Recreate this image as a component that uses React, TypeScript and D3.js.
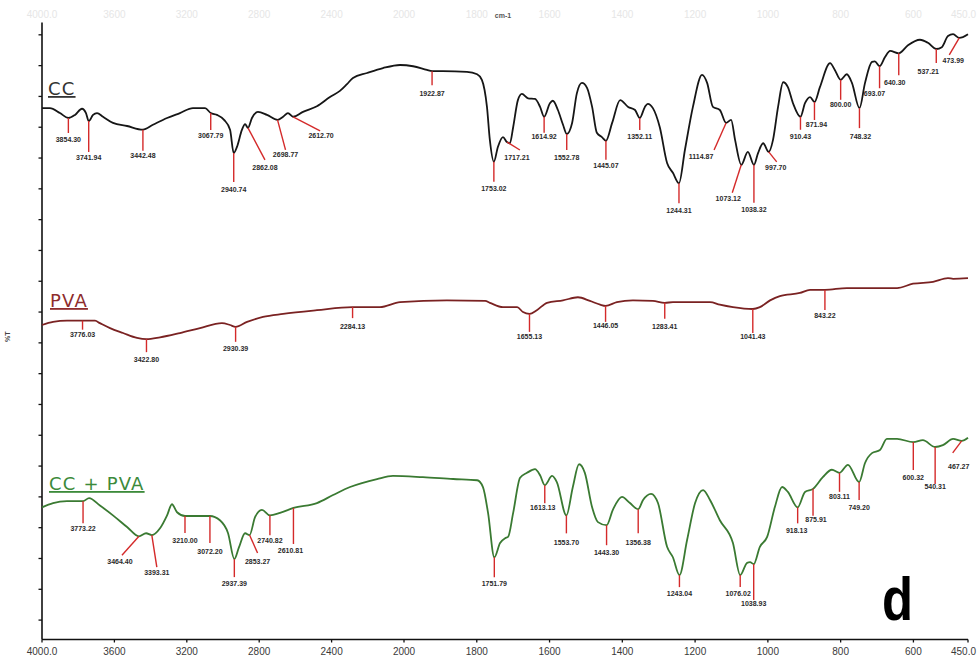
import React from "react";
import * as d3 from "d3";

// FTIR spectra: wavenumber (cm-1) vs transmittance (%T), three stacked traces
const xTicks = [4000, 3600, 3200, 2800, 2400, 2000, 1800, 1600, 1400, 1200, 1000, 800, 600, 450];
const yTicks = d3.range(0, 96, 5);

const ccSpectrum: [number, number][] = [
  [4000, 83.1], [3956, 83.1], [3901, 82.3], [3854.3, 81.5], [3818, 82.0], [3779, 83.0], [3757, 82.3],
  [3741.94, 81.0], [3718, 82.0], [3696, 82.3], [3663, 81.7], [3608, 80.7], [3530, 80.2], [3442.48, 79.6],
  [3387, 80.4], [3309, 81.5], [3238, 82.3], [3166, 83.1], [3099, 83.1], [3067.79, 82.3], [3033, 82.0],
  [2994, 81.2], [2961, 79.6], [2940.74, 75.8], [2923, 76.8], [2895, 79.6], [2878, 80.5], [2862.08, 79.9],
  [2840, 81.5], [2807, 82.5], [2757, 82.0], [2698.77, 81.2], [2668, 81.7], [2641, 82.3], [2612.7, 81.7],
  [2558, 82.5], [2481, 83.4], [2409, 84.9], [2354, 85.9], [2315, 87.0], [2282, 88.0], [2204, 88.8],
  [2116, 89.6], [2022, 90.1], [1975, 89.9], [1937, 89.3], [1922.87, 89.1], [1893, 89.1], [1827, 89.0],
  [1799, 88.6], [1786, 87.7], [1772, 83.3], [1764, 77.9], [1753.02, 74.4], [1742, 76.8], [1728, 78.4],
  [1717.21, 77.6], [1709, 77.4], [1700, 80.0], [1687, 84.4], [1676, 85.4], [1659, 84.7], [1640, 84.6],
  [1626, 83.3], [1614.92, 81.7], [1599, 83.9], [1591, 84.3], [1577, 82.8], [1563, 80.4], [1552.78, 78.9],
  [1538, 80.7], [1525, 85.5], [1511, 87.2], [1497, 86.4], [1483, 83.3], [1470, 79.1], [1456, 78.4],
  [1445.07, 77.8], [1428, 80.7], [1406, 84.4], [1384, 83.3], [1365, 82.8], [1352.11, 81.5], [1338, 83.3],
  [1330, 83.8], [1316, 83.1], [1297, 80.0], [1277, 74.2], [1261, 72.6], [1244.31, 70.9], [1228, 76.3],
  [1206, 83.3], [1181, 88.5], [1167, 87.2], [1151, 83.3], [1132, 82.8], [1114.87, 80.7], [1101, 81.2],
  [1090, 77.9], [1073.12, 73.9], [1055, 76.0], [1038.32, 73.9], [1027, 75.8], [1013, 77.4], [997.7, 76.0],
  [986, 77.9], [972, 83.3], [958, 87.3], [945, 86.5], [931, 83.9], [910.43, 81.7], [898, 83.9],
  [884, 84.9], [871.94, 84.1], [857, 86.5], [829, 90.4], [816, 89.3], [800.0, 87.7], [783, 88.6],
  [769, 87.2], [748.32, 83.1], [733, 87.2], [714, 90.6], [706, 90.7], [693.07, 89.9], [678, 91.4],
  [664, 92.4], [640.3, 92.0], [615, 93.3], [582, 94.2], [560, 93.7], [537.21, 92.7], [522, 93.0],
  [505, 94.8], [491, 95.1], [473.99, 94.5], [450, 95.1],
];

const pvaSpectrum: [number, number][] = [
  [4000, 47.9], [3939, 48.4], [3862, 48.6], [3776.03, 48.6], [3707, 48.6], [3680, 48.2], [3624, 47.4],
  [3552, 46.6], [3475, 45.8], [3422.8, 45.6], [3348, 45.9], [3238, 46.6], [3127, 47.4], [3006, 48.2],
  [2961, 47.9], [2930.39, 47.6], [2867, 48.4], [2779, 49.2], [2668, 49.7], [2481, 50.3], [2284.13, 50.8],
  [2133, 50.8], [2022, 51.6], [1882, 51.9], [1777, 51.8], [1764, 51.5], [1728, 50.8], [1689, 50.8],
  [1673, 50.0], [1655.13, 49.7], [1635, 50.3], [1607, 51.5], [1563, 51.9], [1522, 52.4], [1489, 51.8],
  [1461, 51.2], [1446.05, 51.0], [1415, 51.6], [1371, 51.9], [1316, 51.8], [1283.41, 51.5], [1261, 51.6],
  [1159, 51.6], [1132, 51.2], [1096, 50.8], [1041.43, 50.5], [1022, 50.8], [994, 51.9], [967, 52.6],
  [912, 53.1], [884, 53.6], [843.22, 53.6], [783, 53.9], [645, 53.9], [601, 54.6], [546, 54.9],
  [505, 55.5], [491, 55.4], [450, 55.5],
];

const blendSpectrum: [number, number][] = [
  [4000, 18.3], [3939, 19.0], [3862, 19.3], [3773.22, 19.3], [3740, 19.8], [3680, 18.6], [3608, 17.0],
  [3530, 15.1], [3464.4, 13.6], [3425, 14.1], [3393.31, 13.8], [3348, 14.9], [3309, 17.0], [3282, 18.8],
  [3254, 17.5], [3210.0, 16.9], [3127, 16.9], [3072.2, 16.9], [3017, 16.2], [2972, 14.1], [2937.39, 9.9],
  [2912, 11.8], [2878, 14.1], [2853.27, 13.8], [2823, 16.7], [2785, 17.9], [2740.82, 17.0], [2685, 17.4],
  [2610.81, 18.2], [2481, 19.0], [2392, 20.3], [2298, 21.6], [2149, 22.9], [2061, 23.4], [1948, 23.2],
  [1865, 22.9], [1799, 22.7], [1783, 21.6], [1769, 17.4], [1751.79, 10.2], [1736, 12.5], [1722, 13.3],
  [1714, 13.5], [1700, 17.4], [1681, 23.1], [1662, 23.9], [1640, 24.5], [1626, 23.5], [1613.13, 21.9],
  [1593, 23.4], [1580, 22.4], [1553.7, 17.0], [1536, 21.6], [1519, 25.3], [1503, 23.9], [1483, 18.3],
  [1467, 15.9], [1443.3, 15.4], [1426, 17.9], [1401, 20.0], [1379, 19.0], [1356.38, 18.0], [1343, 19.5],
  [1321, 20.5], [1302, 19.0], [1277, 11.9], [1261, 10.2], [1243.04, 7.3], [1222, 13.0], [1200, 19.0],
  [1178, 21.1], [1159, 19.5], [1132, 16.2], [1096, 12.5], [1076.02, 7.3], [1057, 9.3], [1049, 9.4],
  [1038.93, 9.1], [1022, 11.9], [1002, 13.5], [981, 18.3], [961, 21.6], [945, 20.8], [918.13, 18.3],
  [898, 20.8], [875.91, 21.3], [849, 23.2], [824, 24.4], [803.11, 23.9], [780, 25.2], [749.2, 22.4],
  [733, 25.5], [714, 27.1], [692, 27.6], [673, 29.4], [645, 29.4], [600.32, 28.9], [574, 29.2],
  [540.31, 28.1], [519, 28.4], [491, 29.4], [467.27, 29.1], [450, 29.6],
];

const ccPeaks = [3854.3, 3741.94, 3442.48, 3067.79, 2940.74, 2862.08, 2698.77, 2612.7, 1922.87, 1753.02,
  1717.21, 1614.92, 1552.78, 1445.07, 1352.11, 1244.31, 1114.87, 1073.12, 1038.32, 997.7, 910.43, 871.94,
  800.0, 748.32, 693.07, 640.3, 537.21, 473.99];
const pvaPeaks = [3776.03, 3422.8, 2930.39, 2284.13, 1655.13, 1446.05, 1283.41, 1041.43, 843.22];
const blendPeaks = [3773.22, 3464.4, 3393.31, 3210.0, 3072.2, 2937.39, 2853.27, 2740.82, 2610.81, 1751.79,
  1613.13, 1553.7, 1443.3, 1356.38, 1243.04, 1076.02, 1038.93, 918.13, 875.91, 803.11, 749.2, 600.32,
  540.31, 467.27];

// Leader geometry for each peak marker: [line dx, line dy, label dx, label dy] in px
const ccLeaders = [[0, 15, 0, 24], [0, 31, 0, 38.5], [0, 21, 0, 28.5], [0, 17, 0, 24.5], [0, 29, 0, 38.5],
  [17, 32, 17, 42.5], [8, 30, 8, 37.5], [27, 14, 28, 21.5], [0, 14, 0, 24.5], [0, 20, 0, 29.5],
  [13, 8, 10, 17.5], [0, 16, 0, 22.5], [0, 16, 0, 25.5], [0, 19, 0, 27.5], [0, 12, 0, 21.5],
  [0, 20, 0, 29.5], [-12, 27, -25, 36.5], [-9, 28, -13, 36.5], [0, 38, 0, 47.5], [8, 10, 7, 18.5],
  [0, 13, 0, 22.5], [0, 18, 2, 25.5], [0, 20, 0, 27.5], [0, 20, 1, 30.5], [0, 22, -5, 29.5],
  [0, 22, -4, 31.5], [0, 14, -8, 25.5], [-10, 17, -6, 25.5]];
const pvaLeaders = [[0, 9, 0, 16.5], [0, 13, 0, 22.5], [0, 15, 0, 24.5], [0, 11, 0, 21.5], [0, 18, 0, 25.5],
  [0, 16, 0, 22.5], [0, 16, 0, 26.5], [0, 24, 0, 30.5], [0, 20, 0, 28.5]];
const blendLeaders = [[0, 22, 0, 29.5], [-17, 19, -19, 27.5], [5, 32, 5, 39.5], [0, 17, 0, 27.5],
  [0, 27, 0, 38.5], [0, 18, 0, 26.5], [8, 18, 8, 28.5], [0, 20, 0, 27.5], [0, 36, -3, 45.5],
  [0, 20, 0, 28.5], [0, 18, -2, 24.5], [0, 18, 0, 29.5], [0, 20, 0, 29.5], [0, 24, 0, 35.5],
  [0, 12, 0, 20.5], [0, 12, -2, 20.5], [0, 36, 0, 41.5], [0, 16, -1, 25.5], [0, 27, 3, 33],
  [0, 19, 0, 26.5], [0, 18, 0, 27.5], [0, 28, 0, 37.5], [0, 37, 0, 42.5], [-9, 12, -3, 28.5]];

const series = [
  { name: "CC", data: ccSpectrum, peaks: ccPeaks, leaders: ccLeaders, color: "#161616", nameColor: "#333333", nameAt: [48, 95] },
  { name: "PVA", data: pvaSpectrum, peaks: pvaPeaks, leaders: pvaLeaders, color: "#7a2222", nameColor: "#8e2c2c", nameAt: [50, 307] },
  { name: "CC + PVA", data: blendSpectrum, peaks: blendPeaks, leaders: blendLeaders, color: "#3a7a32", nameColor: "#3c8a3a", nameAt: [49, 490] },
];

const W = 977;
const H = 657;

// Wavenumber axis switches to double scale below 2000 cm-1
const x = d3.scaleLinear().domain([4000, 2000, 450]).range([42, 404, 968]);
const y = d3.scaleLinear().domain([-3.15, 97]).range([639.5, 22.5]);

const line = d3
  .line<[number, number]>()
  .x((d) => x(d[0]))
  .y((d) => y(d[1]))
  .curve(d3.curveMonotoneX);

function valueAt(data: [number, number][], wn: number): number {
  const hit = data.find((d) => Math.abs(d[0] - wn) < 0.005);
  if (hit) return hit[1];
  const interp = d3.scaleLinear().domain(data.map((d) => d[0])).range(data.map((d) => d[1]));
  return interp(wn);
}

const tickLabel = (t: number) => (t === 4000 || t === 450 ? t.toFixed(1) : String(t));
// The last label sits against the right edge, so it is right-aligned there
const tickAnchor = (t: number) => (t === 450 ? "end" : "middle");
const tickX = (t: number) => (t === 450 ? W - 1 : x(t));

export default function App() {
  const axisBottom = y(-3.15);
  const axisTop = y(97);
  return (
    <svg
      width={W}
      height={H}
      viewBox={`0 0 ${W} ${H}`}
      style={{ position: "absolute", left: 0, top: 0, background: "#ffffff" }}
    >
      {/* faint top scale */}
      <g fontFamily="Liberation Sans, Arial, sans-serif" fontSize={10} fill="#e6e6e6">
        {xTicks.map((t) => (
          <text key={`top-${t}`} x={tickX(t)} y={18} textAnchor={tickAnchor(t)}>
            {tickLabel(t)}
          </text>
        ))}
      </g>
      <text x={503} y={18} fontFamily="Liberation Sans, Arial, sans-serif" fontSize={7} fontWeight="bold" fill="#555" textAnchor="middle">
        cm-1
      </text>

      {/* axes */}
      <line x1={x(4000)} x2={x(4000)} y1={axisTop} y2={axisBottom} stroke="#111" strokeWidth={1.6} />
      <line x1={x(4000)} x2={x(450)} y1={axisBottom} y2={axisBottom} stroke="#111" strokeWidth={1.6} />
      {yTicks.map((t) => (
        <line key={`yt-${t}`} x1={x(4000) - 3.5} x2={x(4000)} y1={y(t)} y2={y(t)} stroke="#111" strokeWidth={1.3} />
      ))}
      {xTicks.map((t) => (
        <line key={`xt-${t}`} x1={x(t)} x2={x(t)} y1={axisBottom} y2={axisBottom + 3} stroke="#111" strokeWidth={1.3} />
      ))}
      <g fontFamily="Liberation Sans, Arial, sans-serif" fontSize={10} fill="#3a3a3a">
        {xTicks.map((t) => (
          <text key={`xl-${t}`} x={tickX(t)} y={655} textAnchor={tickAnchor(t)}>
            {tickLabel(t)}
          </text>
        ))}
      </g>
      <text
        transform={`translate(10, ${y(46)}) rotate(-90)`}
        fontFamily="Liberation Sans, Arial, sans-serif"
        fontSize={7}
        fontWeight="bold"
        fill="#444"
        textAnchor="middle"
      >
        %T
      </text>

      {series.map((s) => (
        <g key={s.name}>
          <path d={line(s.data) ?? ""} fill="none" stroke={s.color} strokeWidth={1.8} strokeLinejoin="round" />
          {s.peaks.map((p, i) => {
            const [dx, dy, lx, ly] = s.leaders[i];
            const px = x(p);
            const py = y(valueAt(s.data, p));
            return (
              <g key={`${s.name}-${p}`}>
                <line x1={px} y1={py} x2={px + dx} y2={py + dy} stroke="#d42a2a" strokeWidth={1.4} />
                <text
                  x={px + lx}
                  y={py + ly}
                  fontFamily="Liberation Sans, Arial, sans-serif"
                  fontSize={7}
                  fontWeight="bold"
                  fill="#2a2a2a"
                  textAnchor="middle"
                >
                  {p.toFixed(2)}
                </text>
              </g>
            );
          })}
          <text
            x={s.nameAt[0]}
            y={s.nameAt[1]}
            fontFamily="DejaVu Sans, Verdana, sans-serif"
            fontSize={18}
            letterSpacing={1.2}
            fill={s.nameColor}
            textDecoration="underline"
          >
            {s.name}
          </text>
        </g>
      ))}

      <text
        transform="translate(882, 620) scale(0.82, 1)"
        fontFamily="Liberation Sans, Arial, sans-serif"
        fontSize={62}
        fontWeight="bold"
        fill="#000"
      >
        d
      </text>
    </svg>
  );
}
